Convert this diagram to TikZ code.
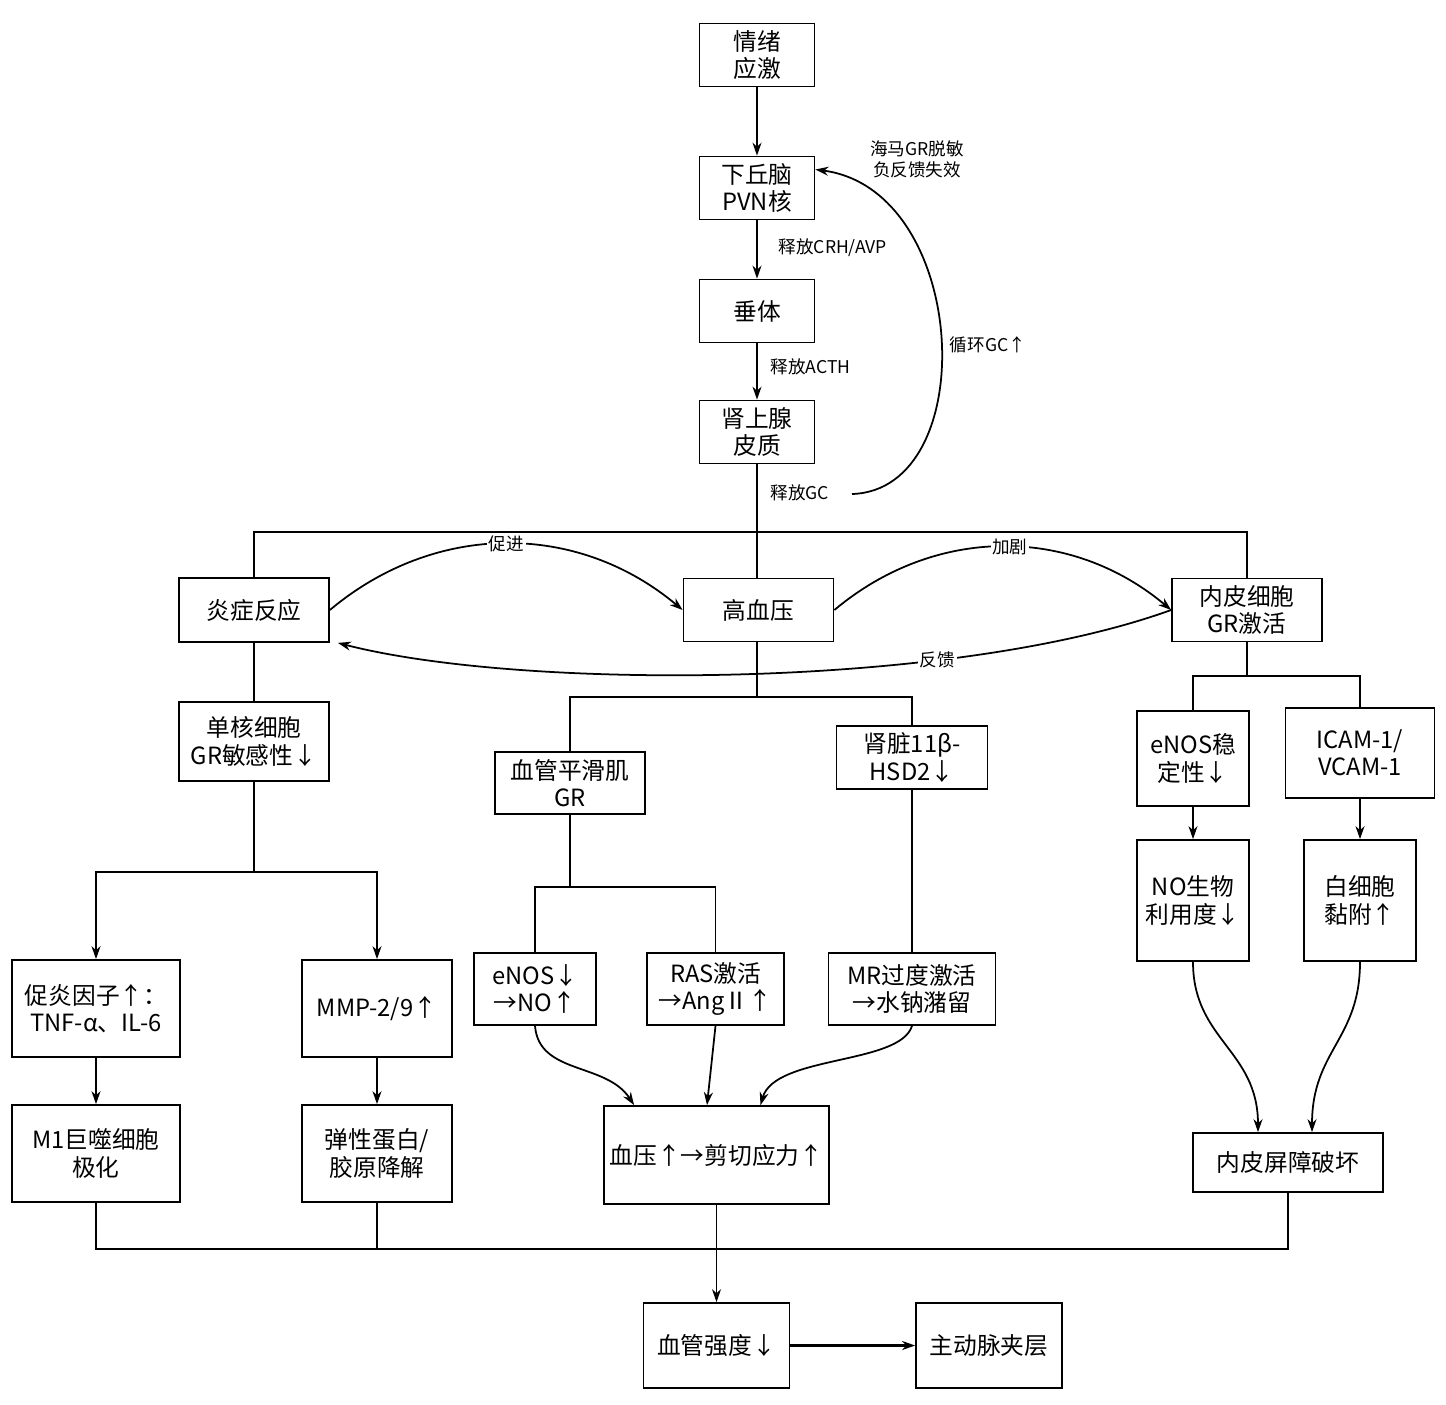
\documentclass[tikz,border=0pt]{standalone}
\usepackage{fontspec}
\setmainfont{Noto Sans CJK SC}
\usetikzlibrary{arrows.meta}

\begin{document}
\begin{tikzpicture}[line width=1pt,>={Stealth[length=2.6mm,width=1.8mm]},
   boite/.style={draw,align=center,inner sep=1pt,font=\fontsize{13.5}{15.5}\selectfont},
   etiquette/.style={font=\fontsize{10}{12}\selectfont,inner sep=1pt}]
  \useasboundingbox (0,0) rectangle (28.92,-28.08);

  \node[boite,minimum width=2.3cm,minimum height=1.26cm] (a) at (15.14,-1.1) {情绪\\应激};
  \node[boite,minimum width=2.3cm,minimum height=1.26cm] (b) [below of=a,node distance=2.66cm] {下丘脑\\PVN核};
  \node[boite,minimum width=2.3cm,minimum height=1.26cm] (c) [below of=b,node distance=2.46cm] {垂体};
  \node[boite,minimum width=2.3cm,minimum height=1.26cm] (d) [below of=c,node distance=2.42cm] {肾上腺\\皮质};
  \node[etiquette,anchor=west] (l1) at (15.52,-4.96) {释放CRH/AVP};
  \node[etiquette,anchor=west] (l2) at (15.36,-7.34) {释放ACTH};
  \node[etiquette,anchor=west] (l3) at (15.36,-9.86) {释放GC};
  \node[etiquette,align=center] (l4) at (18.34,-3.18) {海马GR脱敏\\负反馈失效};
  \node[etiquette] (l5) at (19.76,-6.9) {循环GC↑};

  \node[boite,minimum width=3cm,minimum height=1.28cm] (e) at (5.08,-12.2) {炎症反应};
  \node[boite,minimum width=3cm,minimum height=1.26cm] (f) at (15.17,-12.2) {高血压};
  \node[boite,minimum width=3cm,minimum height=1.26cm] (g) at (24.94,-12.2) {内皮细胞\\GR激活};
  \node[boite,minimum width=3cm,minimum height=1.58cm] (h) at (5.08,-14.83) {单核细胞\\GR敏感性↓};
  \node[boite,minimum width=3cm,minimum height=1.24cm] (i) at (11.4,-15.66) {血管平滑肌\\GR};
  \node[boite,minimum width=3.02cm,minimum height=1.26cm] (j) at (18.24,-15.15) {肾脏11β-\\HSD2↓};
  \node[boite,minimum width=3.36cm,minimum height=1.94cm] (k) at (1.92,-20.17) {促炎因子↑：\\TNF-α、IL-6};
  \node[boite,minimum width=3cm,minimum height=1.94cm] (l) at (7.54,-20.17) {MMP-2/9↑};
  \node[boite,minimum width=3.36cm,minimum height=1.94cm] (m) at (1.92,-23.07) {M1巨噬细胞\\极化};
  \node[boite,minimum width=3cm,minimum height=1.94cm] (n) at (7.54,-23.07) {弹性蛋白/\\胶原降解};
  \node[boite,minimum width=2.44cm,minimum height=1.44cm] (o) at (10.7,-19.78) {eNOS↓\\→NO↑};
  \node[boite,minimum width=2.74cm,minimum height=1.44cm] (p) at (14.31,-19.78) {RAS激活\\→AngⅡ↑};
  \node[boite,minimum width=3.34cm,minimum height=1.44cm] (q) at (18.24,-19.78) {MR过度激活\\→水钠潴留};
  \node[boite,minimum width=4.5cm,minimum height=1.96cm] (r) at (14.33,-23.1) {血压↑→剪切应力↑};
  \node[boite,minimum width=2.24cm,minimum height=1.9cm] (s) at (23.86,-15.17) {eNOS稳\\定性↓};
  \node[boite,minimum width=2.98cm,minimum height=1.8cm] (t) at (27.2,-15.06) {ICAM-1/\\VCAM-1};
  \node[boite,minimum width=2.24cm,minimum height=2.42cm] (u) at (23.86,-18.01) {NO生物\\利用度↓};
  \node[boite,minimum width=2.24cm,minimum height=2.42cm] (v) at (27.2,-18.01) {白细胞\\黏附↑};
  \node[boite,minimum width=3.8cm,minimum height=1.18cm] (w) at (25.76,-23.25) {内皮屏障破坏};
  \node[boite,minimum width=2.92cm,minimum height=1.7cm] (x) at (14.33,-26.91) {血管强度↓};
  \node[boite,minimum width=2.92cm,minimum height=1.7cm] (y) [right of=x,node distance=5.45cm] {主动脉夹层};

  \foreach \from/\to in {a/b,b/c,c/d,k/m,l/n,s/u,t/v,r/x} \draw[->] (\from) -- (\to);
  \draw[->,line width=1.5pt] (x) -- (y);

  % boucle GC
  \coordinate (gc) at (17.04,-9.88);
  \draw[->] (gc) .. controls (19.65,-9.8) and (19.4,-3.8) .. ([yshift=3.7mm]b.east);

  % embranchements
  \coordinate (jd) at (15.14,-10.64);
  \coordinate (jf) at (15.14,-13.94);
  \coordinate (jg) at (24.94,-13.52);
  \coordinate (jh) at (5.08,-17.44);
  \coordinate (ji) at (11.4,-17.74);
  \coordinate (jr) at (14.33,-24.98);
  \draw (d) -- (d |- f.north);
  \draw (e.north) |- (jd) -| (g.north);
  \draw (e) -- (h);
  \draw (jf) -- (jf |- f.south);
  \draw (i.north) |- (jf) -| (j.north);
  \draw (j) -- (q);
  \draw (g) -- (jg);
  \draw (s.north) |- (jg) -| (t.north);
  \draw (h) -- (jh);
  \draw[->] (jh) -| (k.north);
  \draw[->] (jh) -| (l.north);
  \draw (i) -- (ji);
  \draw (o.north) |- (ji) -| (p.north);
  \draw (m.south) |- (jr) -| (w.south);
  \draw (n) -- (n |- jr);

  % courbes
  \draw[->] (e.east) to[out=40,in=140] node[etiquette,fill=white] {促进} (f.west);
  \draw[->] (f.east) to[out=40,in=140] node[etiquette,fill=white,pos=0.52] {加剧} (g.west);
  \draw[->] (g.west) .. controls (19,-13.8) and (10.4,-13.8) .. node[etiquette,fill=white,pos=0.29] {反馈} ([xshift=1.6mm]e.south east);
  \draw[->] (o.south) .. controls (10.78,-21.5) and (12.12,-21.24) .. ([xshift=6.2mm]r.north west);
  \draw[->] (p.south) -- ([xshift=-1.9mm]r.north);
  \draw[->] (q.south) .. controls (18,-21.3) and (15.5,-21.1) .. ([xshift=8.8mm]r.north);
  \draw[->] (u.south) .. controls (23.86,-20.8) and (25.16,-21) .. ([xshift=-6mm]w.north);
  \draw[->] (v.south) .. controls (27.2,-20.8) and (26.24,-21) .. ([xshift=4.8mm]w.north);
\end{tikzpicture}
\end{document}
